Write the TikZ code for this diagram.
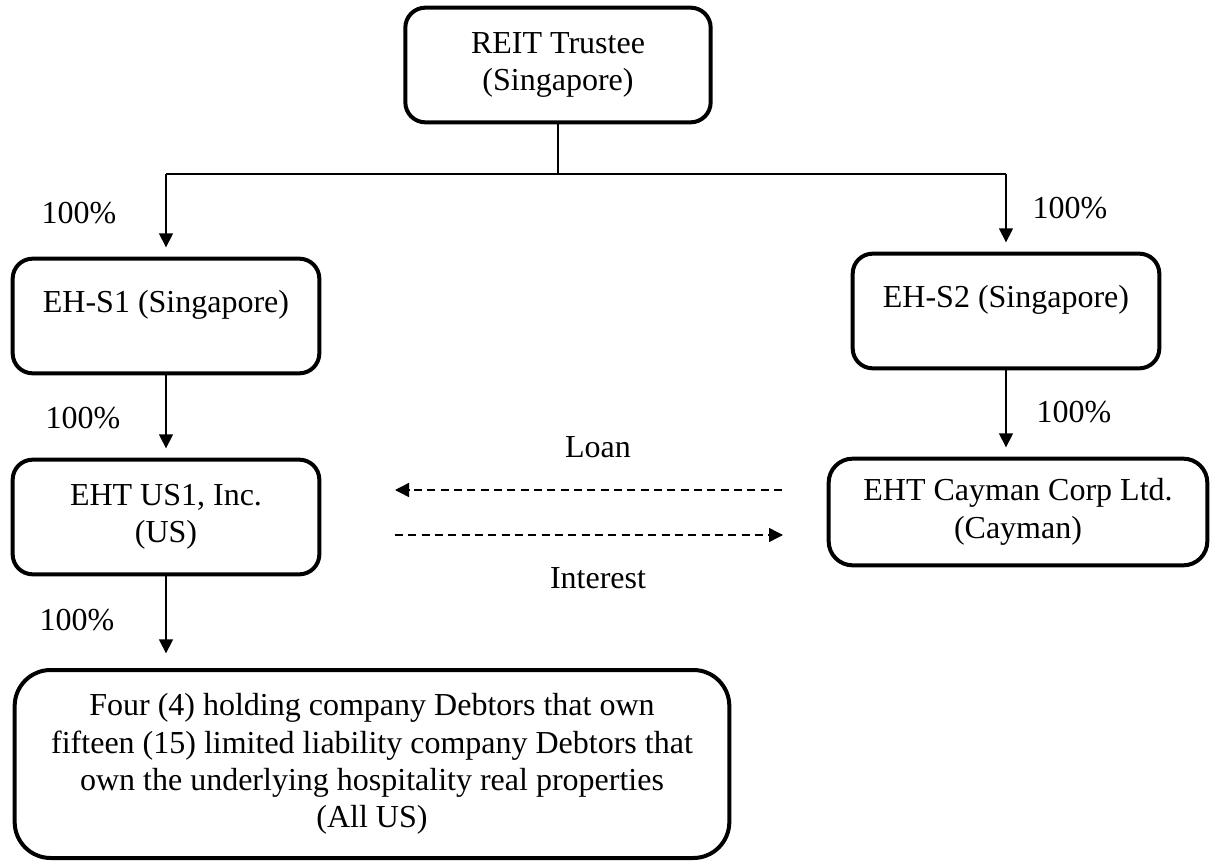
\documentclass[tikz,border=0pt]{standalone}
\usepackage{fontspec}
\setmainfont{Liberation Serif}
\usetikzlibrary{arrows.meta}

\tikzset{
	entity/.style={draw, line width=3pt, rounded corners=15pt, align=center, inner sep=0pt, font=\fontsize{24}{28}\selectfont},
	raised/.style={text depth=22pt},
	pct/.style={inner sep=0.75pt, font=\fontsize{24}{28}\selectfont},
	link/.style={line width=1.1pt},
	own/.style={link, -{Triangle[length=10.5pt,width=10.5pt]}, shorten >=7pt},
	flow/.style={link, dash pattern=on 6pt off 4pt, -{Triangle[length=10.5pt,width=10.5pt]}},
}

\begin{document}
\begin{tikzpicture}[x=0.75pt,y=0.75pt,yscale=-1,xscale=1]
		\useasboundingbox (0,0) rectangle (1215,863);
		
		%Shape: Rounded boxes
		\node [entity, minimum width=229pt, minimum height=86pt] (trustee) at (558,65) {REIT Trustee\\(Singapore)};
		\node [entity, raised, minimum width=230pt, minimum height=86pt] (ehs1) at (166,316) {EH-S1 (Singapore)};
		\node [entity, raised, minimum width=230pt, minimum height=86pt] (ehs2) at (1006,311) {EH-S2 (Singapore)};
		\node [entity, minimum width=230pt, minimum height=86pt] (us1) at (166,517) {EHT US1, Inc.\\(US)};
		\node [entity, rounded corners=18pt, minimum width=284pt, minimum height=80pt] (cayman) at (1018,512) {EHT Cayman Corp Ltd.\\(Cayman)};
		\node [entity, rounded corners=27pt, minimum width=536pt, minimum height=141pt] (four) at (372,764) {Four (4) holding company Debtors that own\\fifteen (15) limited liability company Debtors that\\own the underlying hospitality real properties\\(All US)};
		
		%Straight Lines: ownership
		\coordinate (split) at (558,174);
		\draw [link] (trustee.south) -- (split);
		\draw [link] (ehs1.north |- split) -- (ehs2.north |- split);
		\draw [own] (ehs1.north |- split) -- (ehs1.north);
		\draw [own] (ehs2.north |- split) -- (ehs2.north);
		\draw [own] (ehs1.south) -- (us1.north);
		\draw [own] (ehs2.south) -- (ehs2.south |- cayman.north);
		\draw [own, shorten >=11pt] (us1.south) -- (us1.south |- four.north);
		
		%Straight Lines: loan and interest
		\coordinate (loanR) at (782,490);
		\coordinate (loanL) at (395,490);
		\coordinate (intL) at (395,535);
		\coordinate (intR) at (783,535);
		\draw [flow] (loanR) -- (loanL);
		\draw [flow] (intL) -- (intR);
		
		% Text Node
		\node [pct] (p1) at (79,213) {100\%};
		% Text Node
		\node [pct] (p2) at (1070,208) {100\%};
		% Text Node
		\node [pct] (p3) at (83,418) {100\%};
		% Text Node
		\node [pct] (p4) at (1074,412) {100\%};
		% Text Node
		\node [pct] (p5) at (77,620) {100\%};
		% Text Node
		\node [pct] (loan) at (598,447) {Loan};
		% Text Node
		\node [pct] (interest) at (598,578) {Interest};
		
\end{tikzpicture}
\end{document}
